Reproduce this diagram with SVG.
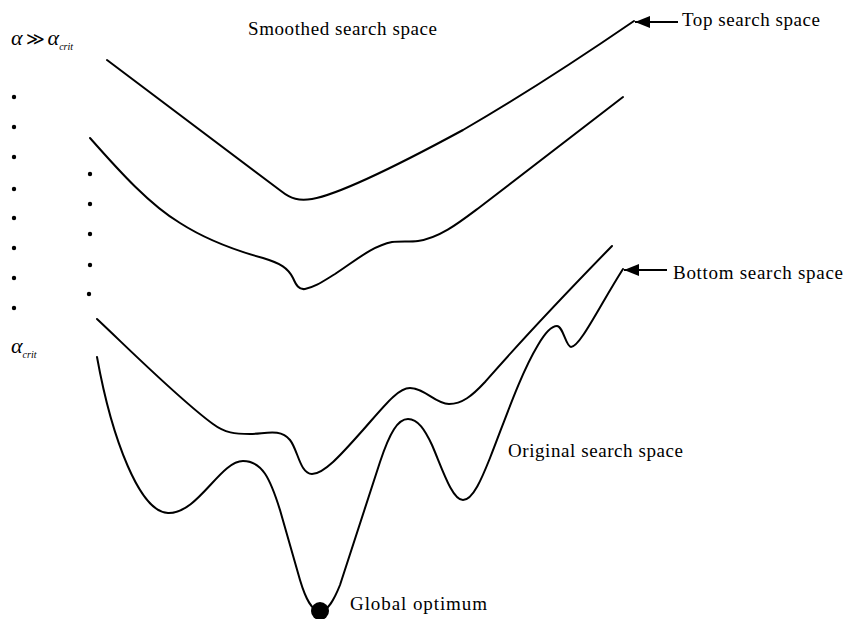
<svg xmlns="http://www.w3.org/2000/svg" width="844" height="619" viewBox="0 0 844 619">
<defs>
<style>
.curve{fill:none;stroke:#000;stroke-width:2;stroke-linejoin:round;stroke-linecap:round}
.lbl{font-family:"Liberation Serif","Times New Roman",serif;font-size:19px;fill:#000}
.alpha{font-family:"Liberation Serif","Times New Roman",serif;font-style:italic;font-size:22px;fill:#000}
.dot{fill:#000}
.arrow{stroke:#000;stroke-width:2;fill:none}
</style>
<marker id="ah" markerUnits="userSpaceOnUse" markerWidth="16" markerHeight="12" refX="15" refY="6" orient="auto">
<path d="M0,0 L15,6 L0,12 Z" fill="#000"/>
</marker>
</defs>
<rect width="844" height="619" fill="#fff"/>

<g id="curve-top">
<path class="curve" d="M107,60 L281,191 C291,199 299,201 312,199 C335,195 380,175 463,130 C520,97 580,58 634,21"/>
</g>
<g id="curve-2">
<path class="curve" d="M90,138 C120,172 150,205 180,223 C205,239 230,249 263,258 C280,263 288,268 293,278 C296,285 299,290 305,289 C315,287 322,282 335,274 C355,261 372,246 392,242 C400,241 410,242 418,241 C440,238 460,222 480,207 L623,97"/>
</g>
<g id="curve-3">
<path class="curve" d="M97,319 C130,350 180,400 213,424 C225,433 235,434 250,434 C265,434 280,428 290,440 C298,450 300,474 312,474 C325,474 345,450 363,430 C385,405 398,388 410,388 C425,388 435,404 449,404 C462,404 472,396 485,382 C500,365 530,330 612,246"/>
</g>
<g id="curve-original">
<path class="curve" d="M97,357 C112,440 140,512 168,513 C198,514 220,461 243,461 C262,461 270,478 280,510 L300,580 C306,600 312,611 320,611 C328,611 334,600 340,585 L380,462 C390,432 398,419 408,419 C418,419 425,430 432,445 C442,468 452,500 463,500 C473,500 482,478 490,458 C505,420 520,375 538,345 C545,333 551,326 557,326 C563,326 566,347 571,347 C580,347 600,305 623,269"/>
</g>

<g id="global-optimum">
<circle class="dot" cx="320" cy="611" r="9"/>
<text class="lbl" x="350" y="610" textLength="137" lengthAdjust="spacing">Global optimum</text>
</g>

<g id="dots-left">
<circle class="dot" cx="14" cy="97" r="2.2"/>
<circle class="dot" cx="14" cy="127" r="2.2"/>
<circle class="dot" cx="14" cy="157" r="2.2"/>
<circle class="dot" cx="14" cy="189" r="2.2"/>
<circle class="dot" cx="14" cy="218" r="2.2"/>
<circle class="dot" cx="14" cy="248" r="2.2"/>
<circle class="dot" cx="14" cy="278" r="2.2"/>
<circle class="dot" cx="14" cy="308" r="2.2"/>
</g>
<g id="dots-mid">
<circle class="dot" cx="90" cy="174" r="2.2"/>
<circle class="dot" cx="90" cy="204" r="2.2"/>
<circle class="dot" cx="90" cy="234" r="2.2"/>
<circle class="dot" cx="90" cy="265" r="2.2"/>
<circle class="dot" cx="89" cy="294" r="2.2"/>
</g>

<g id="alpha-top">
<text class="alpha" x="11" y="45">α<tspan dx="3" font-style="normal" font-size="18">≫</tspan><tspan dx="3">α</tspan><tspan font-size="10" dy="5">crit</tspan></text>
</g>
<g id="alpha-bottom">
<text class="alpha" x="11" y="353">α<tspan font-size="10" dy="5">crit</tspan></text>
</g>

<g id="label-smoothed">
<text class="lbl" x="248" y="35" textLength="189" lengthAdjust="spacing">Smoothed search space</text>
</g>
<g id="label-top">
<text class="lbl" x="682" y="26" textLength="138" lengthAdjust="spacing">Top search space</text>
</g>
<g id="label-bottom">
<text class="lbl" x="673" y="279" textLength="170" lengthAdjust="spacing">Bottom search space</text>
</g>
<g id="label-original">
<text class="lbl" x="508" y="457" textLength="175" lengthAdjust="spacing">Original search space</text>
</g>

<g id="connectors">
<line class="arrow" x1="678" y1="22" x2="635" y2="22" marker-end="url(#ah)"/>
<line class="arrow" x1="667" y1="270" x2="624" y2="270" marker-end="url(#ah)"/>
</g>
</svg>
